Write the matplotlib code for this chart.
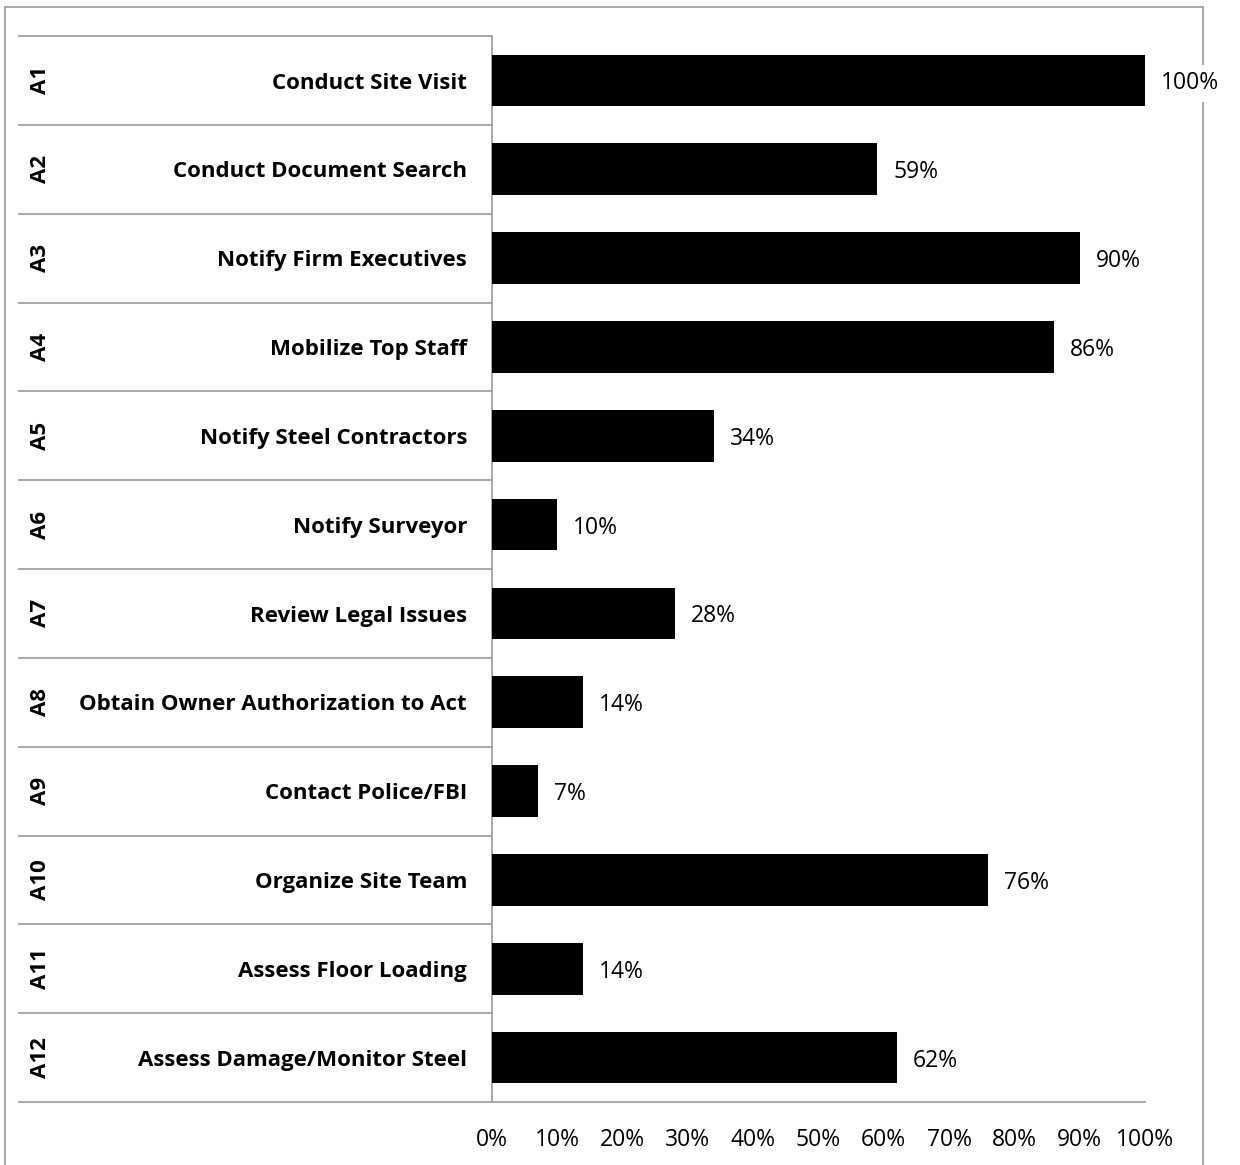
import matplotlib
matplotlib.use("Agg")
import matplotlib.pyplot as plt
from matplotlib.lines import Line2D
from matplotlib.ticker import FuncFormatter

codes = ["A1", "A2", "A3", "A4", "A5", "A6", "A7", "A8", "A9", "A10", "A11", "A12"]
activities = ["Conduct Site Visit", "Conduct Document Search", "Notify Firm Executives",
              "Mobilize Top Staff", "Notify Steel Contractors", "Notify Surveyor",
              "Review Legal Issues", "Obtain Owner Authorization to Act",
              "Contact Police/FBI", "Organize Site Team", "Assess Floor Loading",
              "Assess Damage/Monitor Steel"]
values = [100, 59, 90, 86, 34, 10, 28, 14, 7, 76, 14, 62]
xticks = [0, 10, 20, 30, 40, 50, 60, 70, 80, 90, 100]

FONT = "Open Sans"
W, H = 1240, 1165
fig = plt.figure(figsize=(W / 100, H / 100), dpi=100)

# outer chart frame (gray)
gray = "#a0a0a0"
for (x0, y0), (x1, y1) in [((5, 7), (1203, 7)), ((5, 7), (5, 1170)), ((1203, 7), (1203, 1170))]:
    fig.add_artist(Line2D([x0 / W, x1 / W], [1 - y0 / H, 1 - y1 / H], color=gray, lw=1.3,
                          transform=fig.transFigure, zorder=-5))

left, right, top, bottom = 492, 1145, 36, 1102
ax = fig.add_axes([left / W, 1 - bottom / H, (right - left) / W, (bottom - top) / H])
ax.patch.set_visible(False)
ax.set_zorder(2)

n = len(values)
ypos = list(range(n))
ax.barh(ypos, values, height=0.58, color="black", zorder=3)
ax.set_xlim(0, 100)
ax.set_ylim(n - 0.5, -0.5)

for s in ["top", "right"]:
    ax.spines[s].set_visible(False)
for s in ["left", "bottom"]:
    ax.spines[s].set_color(gray)
    ax.spines[s].set_linewidth(1.3)

ax.set_yticks([])
ax.set_xticks(xticks)
ax.xaxis.set_major_formatter(FuncFormatter(lambda v, p: f"{int(v)}%"))
ax.tick_params(axis="x", length=0, pad=19)
for lab in ax.get_xticklabels():
    lab.set_fontfamily(FONT)
    lab.set_fontsize(16.5)

# value labels
for y, v in zip(ypos, values):
    ax.annotate(f"{v}%", xy=(v, y), xytext=(16, -3), textcoords="offset pixels",
                ha="left", va="center", fontsize=16.5, fontfamily=FONT, annotation_clip=False,
                bbox=dict(boxstyle="square,pad=0.3", fc="white", ec="none"), zorder=10)

# category axis (multi-level)
ytr = ax.get_yaxis_transform()
xl = (19 - left) / (right - left)
for b in range(n + 1):
    yb = b - 0.5
    ax.add_line(Line2D([xl, 0], [yb, yb], color=gray, lw=1.3, transform=ytr, clip_on=False))
xcode = (40 - left) / (right - left)
xname = (467 - left) / (right - left)
dy = 0.03
for y, c, a in zip(ypos, codes, activities):
    ax.text(xcode, y, c, rotation=90, ha="center", va="center", fontsize=16,
            fontweight="bold", fontfamily=FONT, transform=ytr)
    ax.text(xname, y + dy, a, ha="right", va="center", fontsize=16,
            fontweight="bold", fontfamily=FONT, transform=ytr)

fig.savefig("out.png", dpi=100)
